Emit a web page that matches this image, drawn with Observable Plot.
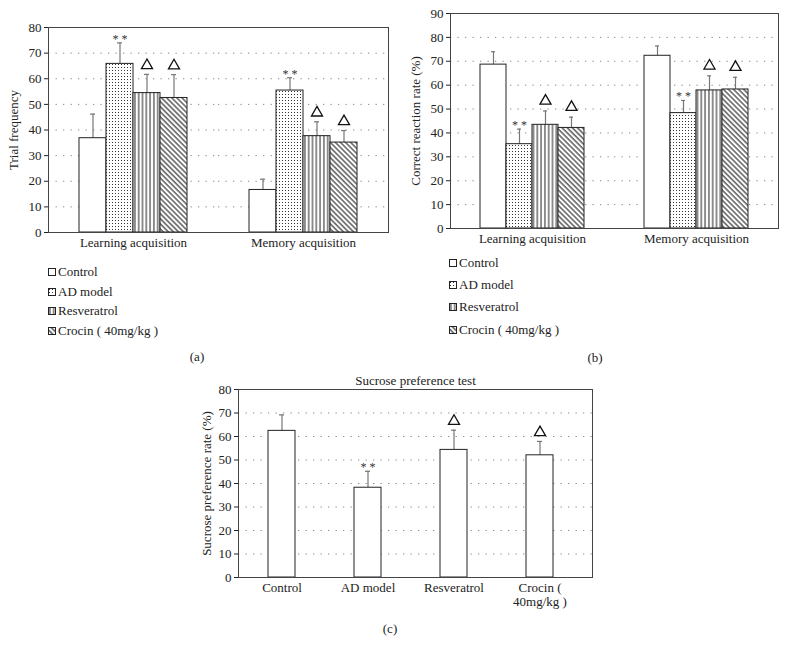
<!DOCTYPE html>
<html>
<head>
<meta charset="utf-8">
<script src="https://cdn.jsdelivr.net/npm/d3@7"></script>
<script src="https://cdn.jsdelivr.net/npm/@observablehq/plot@0.6"></script>
<style>
  body { margin: 0; background: #fff; }
  #page { position: relative; width: 786px; height: 654px; overflow: hidden; font-family: "Liberation Serif", "DejaVu Serif", serif; color: #222; }
  .abs { position: absolute; }
  .legend { font-size: 13px; line-height: 1; }
  .legend .row { position: absolute; white-space: nowrap; display: flex; align-items: center; }
  .legend svg { margin-right: 2px; }
  .tag { font-size: 13px; transform: translateX(-50%); }
</style>
</head>
<body>
<svg width="0" height="0" style="position:absolute">
  <defs>
    <pattern id="dots" width="3" height="3" patternUnits="userSpaceOnUse">
      <rect width="3" height="3" fill="#fff"/>
      <rect x="1" y="1" width="1" height="1" fill="#333"/>
    </pattern>
    <pattern id="vlines" width="3.8" height="4" patternUnits="userSpaceOnUse">
      <rect width="3.8" height="4" fill="#fff"/>
      <rect x="1.4" y="0" width="1" height="4" fill="#222"/>
    </pattern>
    <pattern id="dlines" width="3.6" height="4" patternUnits="userSpaceOnUse" patternTransform="rotate(-45)">
      <rect width="3.6" height="4" fill="#fff"/>
      <rect x="1.3" y="0" width="1.1" height="4" fill="#222"/>
    </pattern>
  </defs>
</svg>
<div id="page">
  <div id="pa" class="abs" style="left:0;top:0"></div>
  <div id="pb" class="abs" style="left:390px;top:0"></div>
  <div id="pc" class="abs" style="left:0;top:370px"></div>
  <div id="la" class="abs legend" style="left:0;top:0"></div>
  <div id="lb" class="abs legend" style="left:0;top:0"></div>
  <div class="abs tag" style="left:197px;top:349px">(a)</div>
  <div class="abs tag" style="left:595px;top:350px">(b)</div>
  <div class="abs tag" style="left:390px;top:621px">(c)</div>
</div>
<script>
// ---- data ----
const series = ["Control", "AD model", "Resveratrol", "Crocin ( 40mg/kg )"];
const groups = ["Learning acquisition", "Memory acquisition"];
const sigLabels = ["", "**", "△", "△"];

// (a) Trial frequency
const trialLearning = [36.8, 65.8, 54.4, 52.5];
const trialLearningErr = [9.4, 8.2, 7.3, 9.1];
const trialMemory = [16.6, 55.4, 37.6, 35.1];
const trialMemoryErr = [4.2, 5.0, 5.6, 4.7];

// (b) Correct reaction rate (%)
const correctLearning = [68.6, 35.3, 43.4, 42.1];
const correctLearningErr = [5.4, 6.3, 5.8, 4.5];
const correctMemory = [72.3, 48.3, 57.8, 58.2];
const correctMemoryErr = [4.1, 5.3, 6.1, 5.1];

// (c) Sucrose preference rate (%)
const sucroseMean = [62.4, 38.2, 54.3, 52.0];
const sucroseErr = [6.8, 7.0, 8.4, 5.9];
const sucroseTickLine1 = ["Control", "AD model", "Resveratrol", "Crocin ("];
const sucroseTickLine2 = ["", "", "", "40mg/kg )"];

const fills = ["white", "url(#dots)", "url(#vlines)", "url(#dlines)"];

// ---- helpers ----
function groupedRows(meansByGroup, errsByGroup) {
  return groups.flatMap((g, gi) => series.map((s, i) => ({
    group: g, series: s, mean: meansByGroup[gi][i], err: errsByGroup[gi][i],
    top: meansByGroup[gi][i] + errsByGroup[gi][i], sig: sigLabels[i]
  })));
}

const baseStyle = { fontFamily: "Liberation Serif, DejaVu Serif, serif", fontSize: "13px", background: "transparent", color: "#222", overflow: "visible" };

function groupedPanel({rows, width, height, mL, mR, mT, mB, yMax, label, labelOffset, triDy}) {
  const grid = d3.range(10, yMax, 10);
  const common = {fx: "group", x: "series"};
  return Plot.plot({
    width, height, marginLeft: mL, marginRight: mR, marginTop: mT, marginBottom: mB,
    style: baseStyle,
    fx: {domain: groups, padding: 0, axis: "bottom", tickSize: 0, tickPadding: 5, label: null},
    x: {domain: series, axis: null, paddingInner: 0, paddingOuter: 1.06},
    y: {domain: [0, yMax], ticks: d3.range(0, yMax + 1, 10), tickSize: 4, tickPadding: 3, label, labelAnchor: "center", labelOffset, labelArrow: false},
    color: {domain: series, range: fills},
    marks: [
      Plot.ruleY(grid, {stroke: "#8a8a8a", strokeDasharray: "1.3,6.2", strokeWidth: 1}),
      Plot.ruleX(rows, {...common, y1: "mean", y2: "top", stroke: "#777", strokeWidth: 1.2}),
      Plot.tickY(rows, {...common, y: "top", stroke: "#777", strokeWidth: 1.2, insetLeft: 11, insetRight: 11}),
      Plot.barY(rows, {...common, y: "mean", fill: "series", stroke: "#222", strokeWidth: 1}),
      Plot.text(rows.filter(d => d.sig === "**"), {...common, y: "top", text: d => "* *", fontSize: 12, dy: -4, fill: "#333"}),
      Plot.dot(rows.filter(d => d.sig === "△"), {...common, y: "top", symbol: "triangle", r: 4.1, stroke: "#111", fill: "white", strokeWidth: 1.3, dy: triDy}),
      Plot.frame({facet: "super", stroke: "#444", strokeWidth: 1})
    ]
  });
}

// ---- panel (a) ----
const rowsA = groupedRows([trialLearning, trialMemory], [trialLearningErr, trialMemoryErr]);
document.getElementById("pa").append(groupedPanel({
  rows: rowsA, width: 390, height: 252, mL: 48, mR: 2, mT: 27, mB: 20, yMax: 80,
  label: "Trial frequency", labelOffset: 40, triDy: -9
}));

// ---- panel (b) ----
const rowsB = groupedRows([correctLearning, correctMemory], [correctLearningErr, correctMemoryErr]);
document.getElementById("pb").append(groupedPanel({
  rows: rowsB, width: 396, height: 248, mL: 59, mR: 8, mT: 13, mB: 20, yMax: 90,
  label: "Correct reaction rate (%)", labelOffset: 40, triDy: -10
}));

// ---- panel (c) ----
const rowsC = series.map((s, i) => ({series: s, mean: sucroseMean[i], err: sucroseErr[i], top: sucroseMean[i] + sucroseErr[i], sig: sigLabels[i]}));
document.getElementById("pc").append(Plot.plot({
  width: 610, height: 250, marginLeft: 238, marginRight: 18, marginTop: 19, marginBottom: 43,
  style: baseStyle,
  x: {domain: series, paddingInner: 0.684, paddingOuter: 0.393, align: 0.44, label: null},
  y: {domain: [0, 80], ticks: d3.range(0, 81, 10), tickSize: 4, tickPadding: 3, label: "Sucrose preference rate (%)", labelAnchor: "center", labelOffset: 37, labelArrow: false},
  marks: [
    Plot.ruleY(d3.range(10, 80, 10), {stroke: "#8a8a8a", strokeDasharray: "1.3,6.2", strokeWidth: 1}),
    Plot.ruleX(rowsC, {x: "series", y1: "mean", y2: "top", stroke: "#777", strokeWidth: 1.2}),
    Plot.tickY(rowsC, {x: "series", y: "top", stroke: "#777", strokeWidth: 1.2, insetLeft: 11, insetRight: 11}),
    Plot.barY(rowsC, {x: "series", y: "mean", fill: "white", stroke: "#222", strokeWidth: 1}),
    Plot.text(rowsC.filter(d => d.sig === "**"), {x: "series", y: "top", text: d => "* *", fontSize: 12, dy: -4, fill: "#333"}),
    Plot.dot(rowsC.filter(d => d.sig === "△"), {x: "series", y: "top", symbol: "triangle", r: 4.1, stroke: "#111", fill: "white", strokeWidth: 1.3, dy: -9}),
    Plot.axisX({tickSize: 0, tickPadding: 5, label: null, tickFormat: d => sucroseTickLine1[series.indexOf(d)]}),
    Plot.axisX({tickSize: 0, tickPadding: 19, label: null, tickFormat: d => sucroseTickLine2[series.indexOf(d)]}),
    Plot.text(["Sucrose preference test"], {frameAnchor: "top", lineAnchor: "middle", dy: -9, fontSize: 13}),
    Plot.frame({stroke: "#444", strokeWidth: 1})
  ]
}));

// ---- legends ----
function legend(id, swatchLeft, tops) {
  const el = d3.select("#" + id);
  series.forEach((s, i) => {
    const row = el.append("div").attr("class", "row").style("left", swatchLeft + "px").style("top", (tops[i] - 7) + "px");
    const sv = row.append("svg").attr("width", 8).attr("height", 8);
    sv.append("rect").attr("x", 0.5).attr("y", 0.5).attr("width", 7).attr("height", 7)
      .attr("fill", fills[i]).attr("stroke", "#222").attr("stroke-width", 1);
    row.append("span").text(s);
  });
}
legend("la", 48, [272, 292, 311, 331]);
legend("lb", 449, [263, 285, 307, 330]);
</script>
</body>
</html>
